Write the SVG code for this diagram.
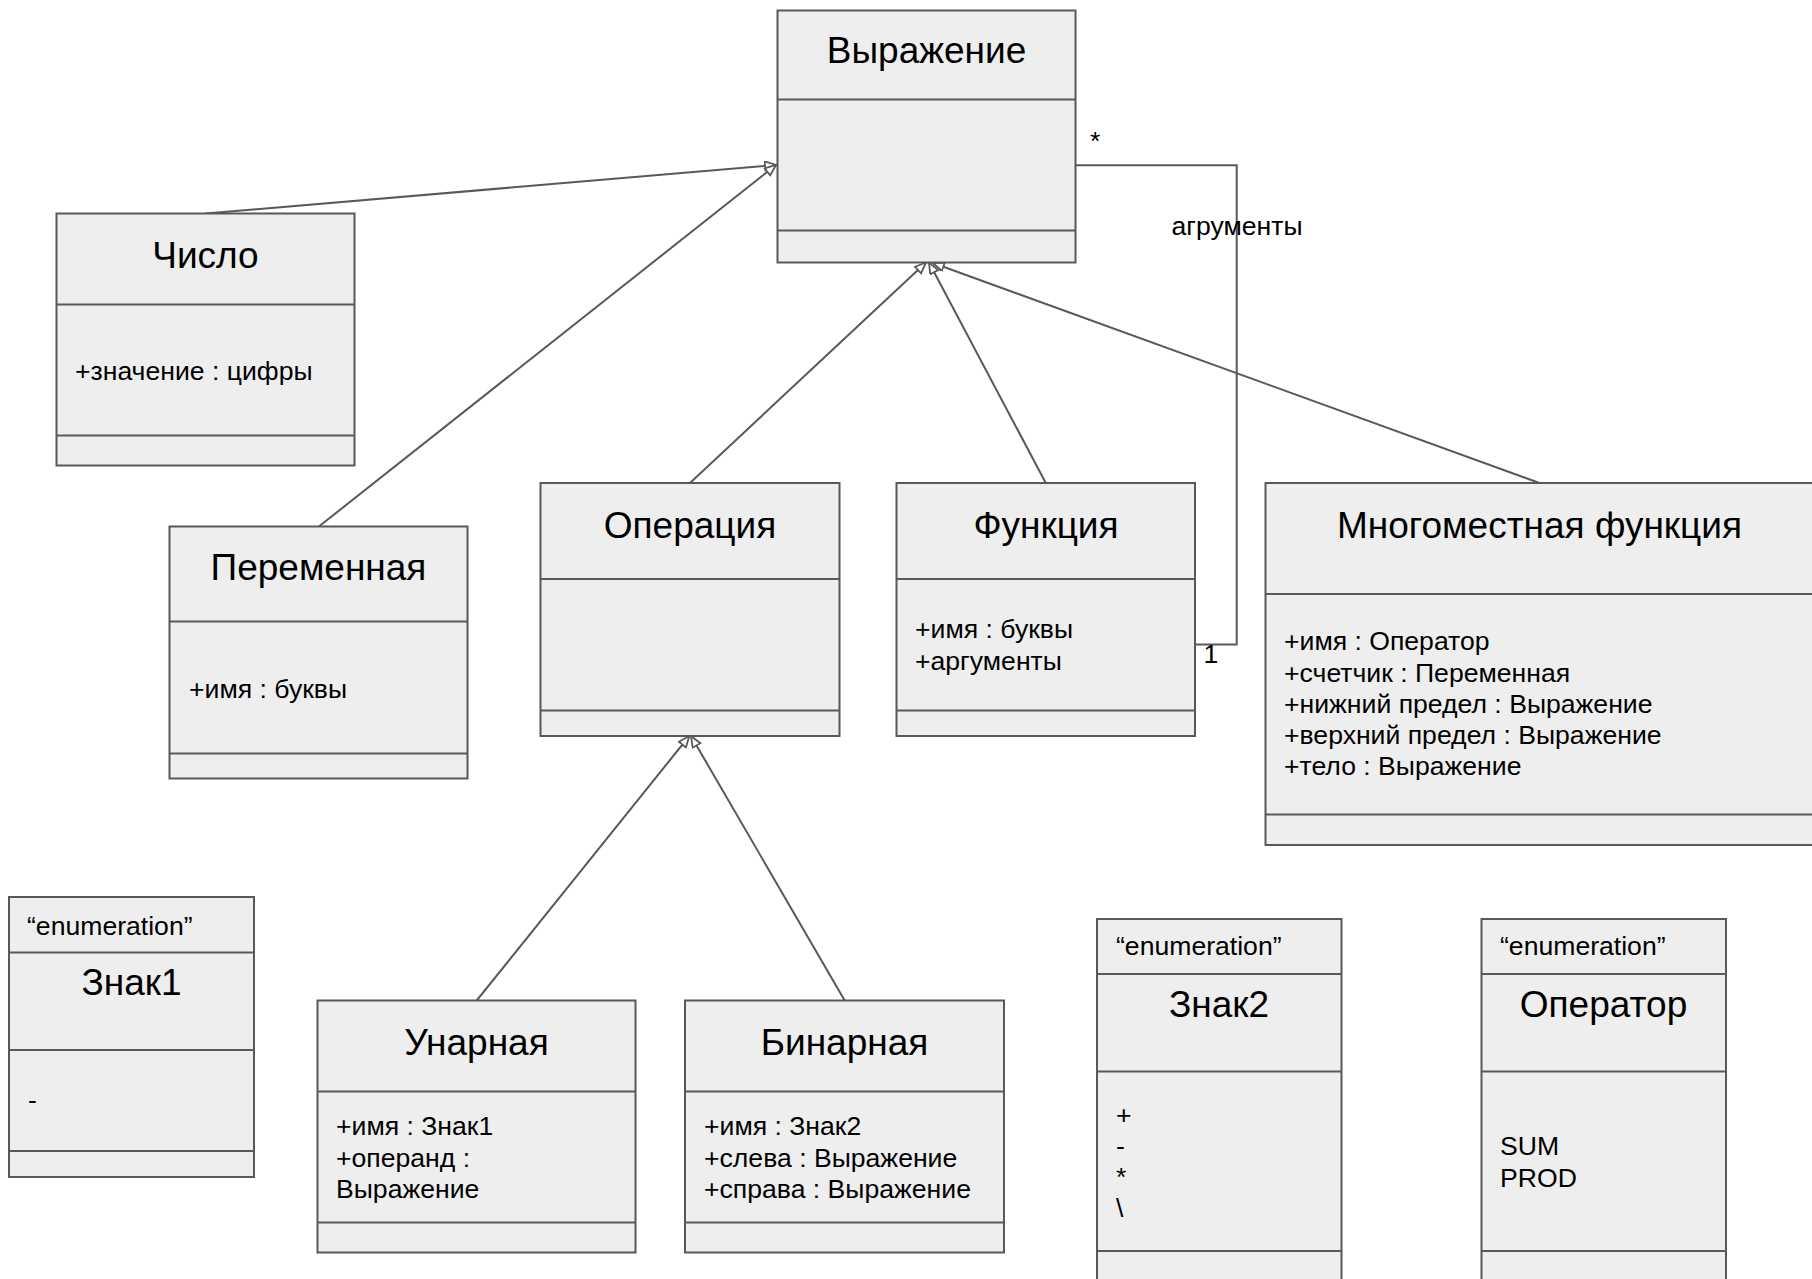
<svg xmlns="http://www.w3.org/2000/svg" width="1812" height="1279" viewBox="0 0 1812 1279">
<style>
  .box { fill: #eeeeee; stroke: #595959; stroke-width: 2; }
  .div { stroke: #595959; stroke-width: 2; fill: none; }
  .title { font-family: "Liberation Sans", Arial, sans-serif; font-size: 37px; fill: #000; text-anchor: middle; }
  .attr { font-family: "Liberation Sans", Arial, sans-serif; font-size: 26.6px; fill: #000; }
  .conn { stroke: #595959; stroke-width: 2; fill: none; }
</style>
<defs>
  <marker id="gen" markerUnits="userSpaceOnUse" markerWidth="14" markerHeight="12" refX="12" refY="5" orient="auto">
    <path d="M1,0.5 L12,5 L1,9.5 z" fill="#ffffff" stroke="#595959" stroke-width="1.8"/>
  </marker>
</defs>
<rect width="1812" height="1279" fill="#ffffff"/>

<g id="connectors">
  <path class="conn" d="M205.7,213.5 L776,165" marker-end="url(#gen)"/>
  <path class="conn" d="M318.9,526.5 L776,165" marker-end="url(#gen)"/>
  <path class="conn" d="M690,483 L926,262.5" marker-end="url(#gen)"/>
  <path class="conn" d="M1045.8,483 L929,262.5" marker-end="url(#gen)"/>
  <path class="conn" d="M1539.5,483 L933,263" marker-end="url(#gen)"/>
  <path class="conn" d="M476.7,1000.5 L689.3,736" marker-end="url(#gen)"/>
  <path class="conn" d="M844.7,1000.5 L691,736" marker-end="url(#gen)"/>
  <path class="conn" d="M1076,165.3 H1236.7 V644.5 H1195"/>
  <text class="attr" x="1090" y="150">*</text>
  <text class="attr" x="1237" y="235" text-anchor="middle">агрументы</text>
  <text class="attr" x="1211" y="663" text-anchor="middle">1</text>
</g>

<g id="vyrazhenie">
  <rect class="box" x="777.5" y="10.5" width="298" height="252"/>
  <line class="div" x1="777.5" y1="99.5" x2="1075.5" y2="99.5"/>
  <line class="div" x1="777.5" y1="230.5" x2="1075.5" y2="230.5"/>
  <text class="title" x="926.5" y="63">Выражение</text>
</g>

<g id="chislo">
  <rect class="box" x="56.5" y="213.5" width="298" height="252"/>
  <line class="div" x1="56.5" y1="304.5" x2="354.5" y2="304.5"/>
  <line class="div" x1="56.5" y1="435.5" x2="354.5" y2="435.5"/>
  <text class="title" x="205.5" y="268">Число</text>
  <text class="attr" x="75" y="380">+значение : цифры</text>
</g>

<g id="peremennaya">
  <rect class="box" x="169.5" y="526.5" width="298" height="252"/>
  <line class="div" x1="169.5" y1="621.5" x2="467.5" y2="621.5"/>
  <line class="div" x1="169.5" y1="753.5" x2="467.5" y2="753.5"/>
  <text class="title" x="318.5" y="580">Переменная</text>
  <text class="attr" x="189" y="698">+имя : буквы</text>
</g>

<g id="operaciya">
  <rect class="box" x="540.5" y="483" width="299" height="253"/>
  <line class="div" x1="540.5" y1="579" x2="839.5" y2="579"/>
  <line class="div" x1="540.5" y1="710.5" x2="839.5" y2="710.5"/>
  <text class="title" x="690" y="538">Операция</text>
</g>

<g id="funkciya">
  <rect class="box" x="896.5" y="483" width="298.5" height="253"/>
  <line class="div" x1="896.5" y1="579" x2="1195" y2="579"/>
  <line class="div" x1="896.5" y1="710.5" x2="1195" y2="710.5"/>
  <text class="title" x="1046" y="538">Функция</text>
  <text class="attr" x="915" y="638">+имя : буквы</text>
  <text class="attr" x="915" y="670">+аргументы</text>
</g>

<g id="mnogomestnaya">
  <rect class="box" x="1265.5" y="483" width="548" height="362"/>
  <line class="div" x1="1265.5" y1="594" x2="1813.5" y2="594"/>
  <line class="div" x1="1265.5" y1="814.5" x2="1813.5" y2="814.5"/>
  <text class="title" x="1539.5" y="538">Многоместная функция</text>
  <text class="attr" x="1284" y="650">+имя : Оператор</text>
  <text class="attr" x="1284" y="682">+счетчик : Переменная</text>
  <text class="attr" x="1284" y="713">+нижний предел : Выражение</text>
  <text class="attr" x="1284" y="744">+верхний предел : Выражение</text>
  <text class="attr" x="1284" y="775">+тело : Выражение</text>
</g>

<g id="unarnaya">
  <rect class="box" x="317.5" y="1000.5" width="318" height="252"/>
  <line class="div" x1="317.5" y1="1091.5" x2="635.5" y2="1091.5"/>
  <line class="div" x1="317.5" y1="1222.5" x2="635.5" y2="1222.5"/>
  <text class="title" x="476.5" y="1055">Унарная</text>
  <text class="attr" x="336" y="1135">+имя : Знак1</text>
  <text class="attr" x="336" y="1167">+операнд :</text>
  <text class="attr" x="336" y="1198">Выражение</text>
</g>

<g id="binarnaya">
  <rect class="box" x="685" y="1000.5" width="319" height="252"/>
  <line class="div" x1="685" y1="1091.5" x2="1004" y2="1091.5"/>
  <line class="div" x1="685" y1="1222.5" x2="1004" y2="1222.5"/>
  <text class="title" x="844.5" y="1055">Бинарная</text>
  <text class="attr" x="704" y="1135">+имя : Знак2</text>
  <text class="attr" x="704" y="1167">+слева : Выражение</text>
  <text class="attr" x="704" y="1198">+справа : Выражение</text>
</g>

<g id="znak1">
  <rect class="box" x="9" y="897" width="245" height="280"/>
  <line class="div" x1="9" y1="952.5" x2="254" y2="952.5"/>
  <line class="div" x1="9" y1="1050" x2="254" y2="1050"/>
  <line class="div" x1="9" y1="1151" x2="254" y2="1151"/>
  <text class="attr" x="27" y="935">“enumeration”</text>
  <text class="title" x="131.5" y="995">Знак1</text>
  <text class="attr" x="28" y="1109">-</text>
</g>

<g id="znak2">
  <rect class="box" x="1097" y="919" width="244.5" height="372"/>
  <line class="div" x1="1097" y1="974" x2="1341.5" y2="974"/>
  <line class="div" x1="1097" y1="1071.5" x2="1341.5" y2="1071.5"/>
  <line class="div" x1="1097" y1="1251" x2="1341.5" y2="1251"/>
  <text class="attr" x="1116" y="955">“enumeration”</text>
  <text class="title" x="1219" y="1017">Знак2</text>
  <text class="attr" x="1116" y="1124">+</text>
  <text class="attr" x="1116" y="1155">-</text>
  <text class="attr" x="1116" y="1186">*</text>
  <text class="attr" x="1116" y="1217">\</text>
</g>

<g id="operator">
  <rect class="box" x="1481.5" y="919" width="244.5" height="372"/>
  <line class="div" x1="1481.5" y1="974" x2="1726" y2="974"/>
  <line class="div" x1="1481.5" y1="1071.5" x2="1726" y2="1071.5"/>
  <line class="div" x1="1481.5" y1="1251" x2="1726" y2="1251"/>
  <text class="attr" x="1500" y="955">“enumeration”</text>
  <text class="title" x="1603.5" y="1017">Оператор</text>
  <text class="attr" x="1500" y="1155">SUM</text>
  <text class="attr" x="1500" y="1187">PROD</text>
</g>
</svg>
